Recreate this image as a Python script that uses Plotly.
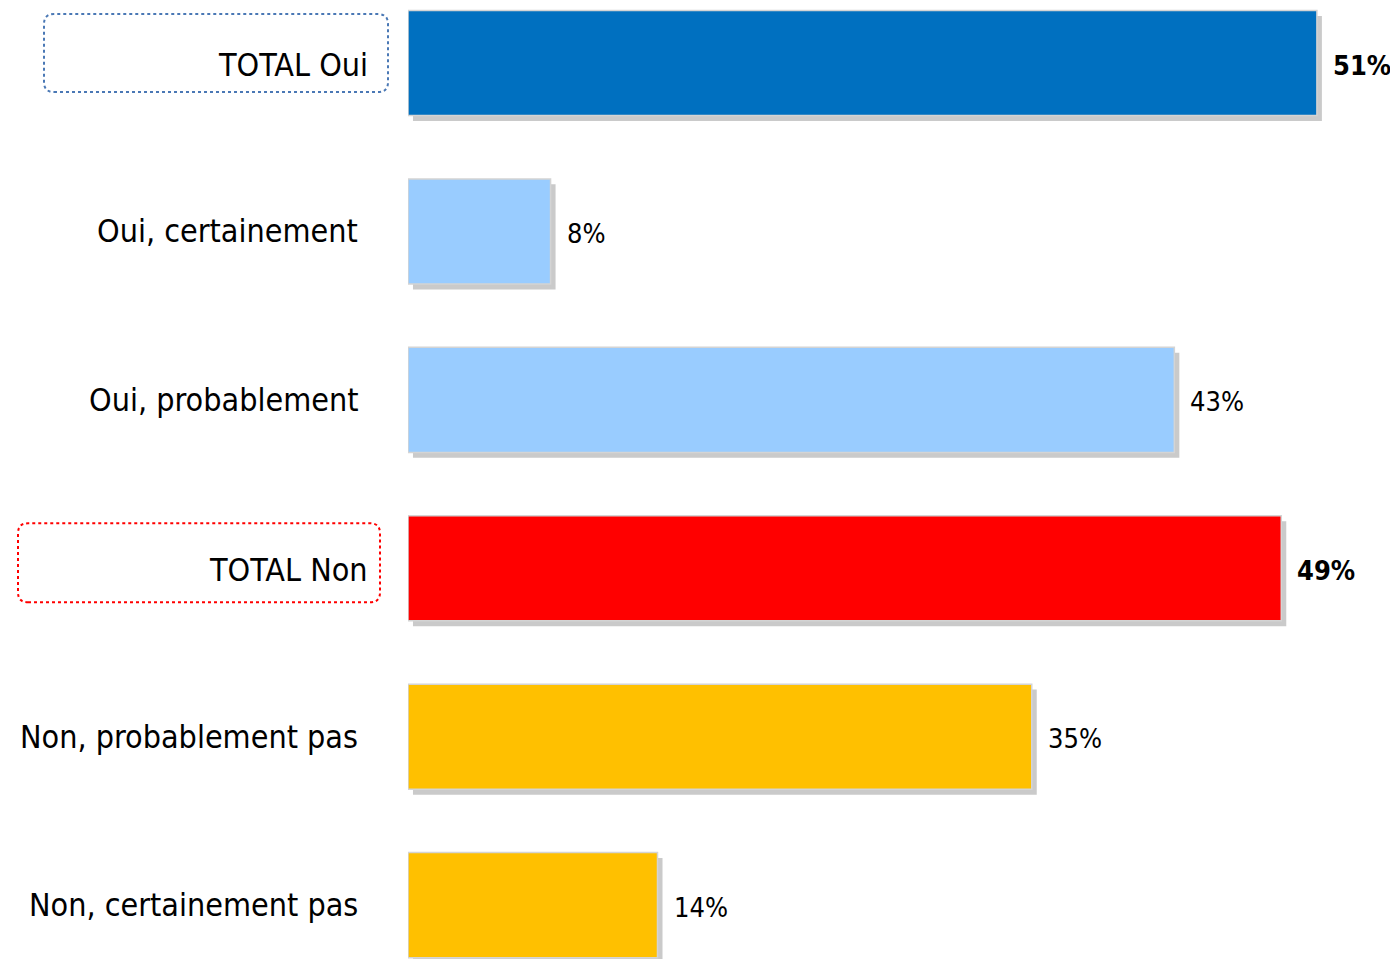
import plotly.graph_objects as go

categories = ["TOTAL Oui", "Oui, certainement", "Oui, probablement",
              "TOTAL Non", "Non, probablement pas", "Non, certainement pas"]
values = [51, 8, 43, 49, 35, 14]
colors = ["#0070C0", "#99CCFF", "#99CCFF", "#FF0000", "#FFC000", "#FFC000"]
is_total = [True, False, False, True, False, False]

FONT = "DejaVu Sans Condensed, DejaVu Sans, sans-serif"
BAR_W = 0.624

fig = go.Figure()

# drop shadow behind each bar
fig.add_trace(go.Bar(
    y=list(range(len(categories))),
    x=values,
    base=0.28,
    orientation="h",
    width=BAR_W,
    offset=-BAR_W / 2 + 0.032,
    marker=dict(color="rgba(150,150,150,0.5)", line=dict(width=0)),
    hoverinfo="skip",
    showlegend=False,
))

fig.add_trace(go.Bar(
    y=list(range(len(categories))),
    x=values,
    orientation="h",
    width=BAR_W,
    marker=dict(color=colors, line=dict(color="#d4d4d4", width=1.5)),
    showlegend=False,
))

annotations = []
for i, (cat, val, tot) in enumerate(zip(categories, values, is_total)):
    # category label on the left
    annotations.append(dict(
        x=0, xref="paper", y=i, yref="y",
        text=cat, showarrow=False, xanchor="right", yanchor="middle",
        xshift=-38 if tot else -48, yshift=-2 if tot else 0,
        font=dict(family=FONT, size=32, color="#000000"),
    ))
    # value label after the bar
    annotations.append(dict(
        x=val, xref="x", y=i, yref="y",
        text=f"<b>{val}%</b>" if tot else f"{val}%",
        showarrow=False, xanchor="left", yanchor="middle",
        xshift=14, yshift=-2,
        font=dict(family=FONT, size=27, color="#000000"),
    ))


def rounded_rect(x0, x1, y0, y1, r=10):
    return (f"M{x0 + r},{y0} L{x1 - r},{y0} Q{x1},{y0} {x1},{y0 + r} "
            f"L{x1},{y1 - r} Q{x1},{y1} {x1 - r},{y1} L{x0 + r},{y1} "
            f"Q{x0},{y1} {x0},{y1 - r} L{x0},{y0 + r} Q{x0},{y0} {x0 + r},{y0} Z")


shapes = [
    dict(type="path", xref="paper", yref="y", xsizemode="pixel", ysizemode="pixel",
         xanchor=0, yanchor=0, path=rounded_rect(-364, -20, -29, 49),
         line=dict(color="#4A78B5", width=2, dash="dot")),
    dict(type="path", xref="paper", yref="y", xsizemode="pixel", ysizemode="pixel",
         xanchor=0, yanchor=3, path=rounded_rect(-390, -28, -34, 45),
         line=dict(color="#FF0000", width=2, dash="dot")),
]

fig.update_layout(
    width=1390, height=951,
    margin=dict(l=400, r=0, t=0, b=0),
    barmode="overlay",
    plot_bgcolor="white", paper_bgcolor="white",
    xaxis=dict(range=[0, 55.55], visible=False),
    yaxis=dict(range=[5.32, -0.327], visible=False),
    annotations=annotations,
    shapes=shapes,
)

fig.write_html("out.html")
